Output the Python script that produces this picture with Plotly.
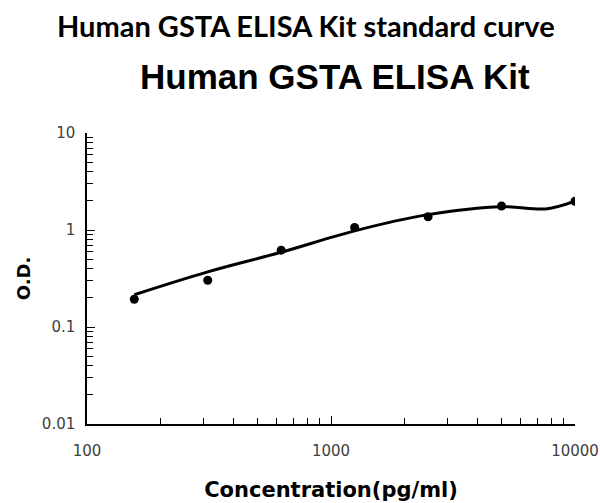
import plotly.graph_objects as go

# Standard points
conc = [156.25, 312.5, 625, 1250, 2500, 5000, 10000]
od = [0.193, 0.303, 0.62, 1.06, 1.37, 1.77, 1.98]

# Fitted curve
curve_conc = [156.25, 312.5, 625, 1250, 2500, 5000, 7600, 10000]
curve_od = [0.215, 0.37, 0.59, 0.98, 1.44, 1.74, 1.65, 1.98]

x_ticks = [100, 1000, 10000]
x_ticktext = ["100", "1000", "10000"]
y_ticks = [0.01, 0.1, 1, 10]
y_ticktext = ["0.01", "0.1", "1", "10"]

title_main = "Human GSTA ELISA Kit standard curve"
title_sub = "Human GSTA ELISA Kit"
x_title = "Concentration(pg/ml)"
y_title = "O.D."

fig = go.Figure()
fig.add_trace(go.Scatter(
    x=curve_conc, y=curve_od, mode="lines",
    line=dict(color="black", width=3, shape="spline", smoothing=1.0),
    hoverinfo="skip", showlegend=False))
fig.add_trace(go.Scatter(
    x=conc, y=od, mode="markers",
    marker=dict(color="black", size=9),
    showlegend=False))

tickfont = dict(family="DejaVu Sans", size=15, color="#404040")

fig.update_layout(
    width=600, height=503,
    margin=dict(l=87, r=25, t=133, b=79),
    paper_bgcolor="white", plot_bgcolor="white",
    xaxis=dict(
        type="log", range=[2, 4], automargin=False,
        tickvals=x_ticks, ticktext=x_ticktext,
        ticks="inside", ticklen=8, tickwidth=1, tickcolor="black",
        minor=dict(ticks="inside", ticklen=6, tickwidth=1, tickcolor="black",
                   dtick="D1", showgrid=False),
        showline=True, linecolor="black", linewidth=1.5,
        showgrid=False, zeroline=False,
        tickfont=tickfont, ticklabelstandoff=12,
        ticklabeloverflow="allow",
        title=dict(text=x_title, font=dict(family="DejaVu Sans", size=21,
                                            color="black", weight="bold"),
                   standoff=24),
    ),
    yaxis=dict(
        type="log", range=[-2, 1], automargin=False,
        tickvals=y_ticks, ticktext=y_ticktext,
        ticks="inside", ticklen=8, tickwidth=1, tickcolor="black",
        minor=dict(ticks="inside", ticklen=6, tickwidth=1, tickcolor="black",
                   dtick="D1", showgrid=False),
        showline=True, linecolor="black", linewidth=1.5,
        showgrid=False, zeroline=False,
        tickfont=tickfont, ticklabelstandoff=7,
        ticklabeloverflow="allow",
        title=dict(text=y_title, font=dict(family="DejaVu Sans", size=18,
                                            color="black", weight="bold"),
                   standoff=7),
    ),
    annotations=[
        dict(text=title_main, xref="paper", yref="paper", x=0.4497, y=1.368,
             xanchor="center", yanchor="middle", showarrow=False,
             font=dict(family="Lato", size=29, color="black", weight="bold")),
        dict(text=title_sub, xref="paper", yref="paper", x=0.508, y=1.193,
             xanchor="center", yanchor="middle", showarrow=False,
             font=dict(family="Liberation Sans", size=35, color="black", weight="bold")),
    ],
)

fig.write_html("out.html", config={"displayModeBar": False},
               post_script="document.body.style.margin='0px';")
